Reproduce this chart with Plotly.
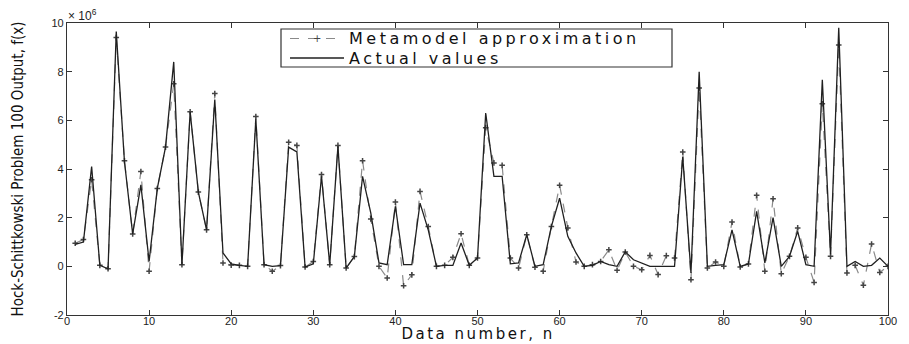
import plotly.graph_objects as go

n = list(range(1, 101))

meta = [0.95, 1.1, 3.56, 0.04, -0.1, 9.4, 4.34, 1.33, 3.9, -0.2,
        3.2, 4.9, 7.5, 0.07, 6.35, 3.05, 1.5, 7.1, 0.14, 0.05,
        0.04, 0.0, 6.16, 0.07, -0.2, 0.03, 5.1, 4.97, -0.03, 0.2,
        3.77, 0.07, 4.97, -0.07, 0.4, 4.34, 1.95, 0.0, -0.48, 2.64,
        -0.8, -0.35, 3.08, 1.64, 0.0, 0.04, 0.37, 1.34, 0.04, 0.34,
        5.7, 4.25, 4.15, 0.34, -0.07, 1.3, -0.04, -0.2, 1.64, 3.33,
        1.58, 0.18, 0.0, 0.07, 0.2, 0.68, -0.16, 0.59, 0.0, -0.14,
        0.45, -0.34, 0.44, 0.34, 4.7, -0.55, 7.33, -0.07, 0.18, 0.0,
        1.82, -0.03, 0.1, 2.92, -0.2, 2.78, -0.3, 0.41, 1.58, 0.37,
        -0.66, 6.68, 0.41, 9.1, -0.27, 0.04, -0.78, 0.92, -0.25, 0.0]

actual = [0.9, 1.0, 4.1, 0.04, -0.1, 9.65, 4.3, 1.33, 3.35, 0.2,
          3.2, 4.9, 8.4, 0.07, 6.35, 3.05, 1.5, 6.85, 0.55, 0.1,
          0.04, 0.0, 6.05, 0.07, 0.0, 0.03, 4.9, 4.7, -0.03, 0.1,
          3.7, 0.07, 4.93, -0.07, 0.4, 3.7, 2.2, 0.14, 0.07, 2.47,
          0.07, 0.07, 2.6, 1.5, 0.0, 0.04, 0.04, 0.96, 0.04, 0.34,
          6.3, 3.7, 3.7, 0.1, 0.14, 1.3, 0.0, 0.07, 1.64, 2.8,
          1.23, 0.55, 0.0, 0.04, 0.2, 0.07, 0.0, 0.6, 0.27, 0.14,
          0.0, 0.0, 0.0, 0.0, 4.5, -0.27, 8.0, 0.0, 0.04, 0.07,
          1.5, 0.0, 0.1, 2.26, 0.14, 2.0, 0.0, 0.41, 1.44, 0.07,
          0.0, 7.67, 0.5, 9.8, 0.0, 0.2, 0.0, 0.04, 0.34, 0.0]

series_names = ["Metamodel approximation", "Actual values"]
x_title = "Data number, n"
y_title = "Hock-Schittkowski Problem 100 Output, f(x)"

scale = 1e6
meta_v = [v * scale for v in meta]
actual_v = [v * scale for v in actual]

xticks = list(range(0, 101, 10))
yticks = [-2, 0, 2, 4, 6, 8, 10]

META_LINE = dict(color="#8a8a8a", width=1.2, dash="dash")
META_MARK = "#444444"
ACT_LINE = dict(color="#202020", width=1.3)

fig = go.Figure()
fig.add_trace(go.Scatter(
    x=n, y=meta_v, mode="lines+markers", name=series_names[0],
    line=META_LINE,
    marker=dict(symbol="cross-thin-open", size=4, color=META_MARK,
                line=dict(width=1.5, color=META_MARK)),
    showlegend=False,
))
fig.add_trace(go.Scatter(
    x=n, y=actual_v, mode="lines", name=series_names[1],
    line=ACT_LINE, showlegend=False,
))

axis_common = dict(
    showline=True, linecolor="#333333", linewidth=1.2, mirror="ticks",
    ticks="inside", ticklen=5, tickcolor="#333333", showgrid=False,
    zeroline=False, automargin=False,
    tickfont=dict(family="Liberation Sans", size=11, color="#222222"),
)

fig.update_xaxes(range=[0, 100], tickvals=xticks, ticktext=[str(t) for t in xticks],
                 ticklabelstandoff=-4, **axis_common)
fig.update_yaxes(range=[-2 * scale, 10 * scale], tickvals=[t * scale for t in yticks],
                 ticktext=[str(t) for t in yticks],
                 title=dict(text=y_title, standoff=24,
                            font=dict(family="Liberation Sans Narrow, DejaVu Sans Condensed, Liberation Sans",
                                      size=15, color="#111111")),
                 **axis_common)

# exponent label
fig.add_annotation(xref="paper", yref="paper", x=0, y=1, xanchor="left", yanchor="bottom",
                   text="× 10<sup>6</sup>", showarrow=False, yshift=-1, borderpad=0,
                   font=dict(family="Liberation Sans", size=12, color="#222222"))

PL, PR, PT, PB = 67, 888, 23, 315
W, H = PR - PL, PB - PT
def px(xp):
    return (xp - PL) / W
def py(yp):
    return (PB - yp) / H

# x axis title
fig.add_annotation(xref="paper", yref="paper", x=0.5, y=py(334.3), xanchor="center",
                   yanchor="middle", text=x_title, showarrow=False, align="center",
                   borderpad=0, font=dict(family="DejaVu Sans", size=15, color="#111111"))

# manual legend (box, samples, text) in paper coordinates
fig.add_shape(type="rect", xref="paper", yref="paper",
              x0=px(281), x1=px(672), y0=py(67), y1=py(29),
              line=dict(color="#333333", width=1.2), fillcolor="white", layer="above")
fig.add_shape(type="line", xref="paper", yref="paper",
              x0=px(290), x1=px(344), y0=py(38.5), y1=py(38.5),
              line=META_LINE, layer="above")
fig.add_shape(type="line", xref="paper", yref="paper",
              x0=px(290), x1=px(344), y0=py(58), y1=py(58),
              line=ACT_LINE, layer="above")
fig.add_annotation(xref="paper", yref="paper", x=px(317), y=py(38.5), xanchor="center",
                   yanchor="middle", text="+", showarrow=False, borderpad=0,
                   font=dict(family="DejaVu Sans", size=10, color=META_MARK))
for label, ypix in zip(series_names, [38.5, 58]):
    fig.add_annotation(xref="paper", yref="paper", x=px(348), y=py(ypix), xanchor="left",
                       yanchor="middle", text=label, showarrow=False, align="left",
                       borderpad=0,
                       font=dict(family="DejaVu Sans", size=16, color="#111111"))

fig.update_layout(
    width=909, height=344,
    margin=dict(l=PL, r=909 - PR, t=PT, b=344 - PB),
    paper_bgcolor="white", plot_bgcolor="white",
    showlegend=False,
)

post = """
document.body.style.margin='0';document.body.style.padding='0';
function sp(){
  var t=document.querySelectorAll('.annotation-text');
  t.forEach(function(e){
    var s=e.textContent;
    if(s.indexOf('Metamodel')===0||s.indexOf('Actual')===0){e.style.letterSpacing='3.5px';}
    else if(s.indexOf('Data number')===0){e.style.letterSpacing='2.5px';}
  });
}
sp();
var gd=document.getElementsByClassName('plotly-graph-div')[0];
if(gd&&gd.on){gd.on('plotly_afterplot',sp);}
"""

fig.write_html("out.html", post_script=post, config={"displayModeBar": False})
